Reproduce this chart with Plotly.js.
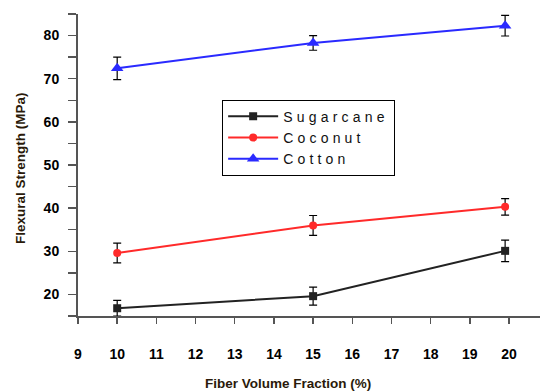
<!DOCTYPE html>
<html>
<head>
<meta charset="utf-8">
<script src="https://cdn.plot.ly/plotly-3.0.1.min.js"></script>
<style>
html,body{margin:0;padding:0;background:#fff;}
#chart{width:540px;height:392px;}
.legendtext{letter-spacing:4.2px;}
.xtick text,.ytick text{font-weight:bold !important;}
</style>
</head>
<body>
<div id="chart"></div>
<script>
// Data
const fiberFraction = [10, 15, 19.9];
const sugarcane = [16.8, 19.6, 30.1];
const sugarcaneErr = [1.8, 2.1, 2.5];
const coconut = [29.6, 36.0, 40.3];
const coconutErr = [2.3, 2.3, 1.9];
const cotton = [72.4, 78.3, 82.3];
const cottonErr = [2.6, 1.7, 2.4];
const seriesNames = ['Sugarcane', 'Coconut', 'Cotton'];
const xTitle = 'Fiber Volume Fraction (%)';
const yTitle = 'Flexural Strength (MPa)';

function trace(name, y, err, color, symbol, size) {
  return {
    x: fiberFraction, y: y, name: name, type: 'scatter', mode: 'lines+markers',
    line: {color: color, width: 2},
    marker: {color: color, symbol: symbol, size: size},
    error_y: {type: 'data', array: err, visible: true, color: '#000', thickness: 1.2, width: 4}
  };
}

const data = [
  trace(seriesNames[0], sugarcane, sugarcaneErr, '#222222', 'square', 8),
  trace(seriesNames[1], coconut, coconutErr, '#ff2a2a', 'circle', 8),
  trace(seriesNames[2], cotton, cottonErr, '#2a2aff', 'triangle-up', 11)
];

const fam = 'Arial, Liberation Sans, sans-serif';
const tickFont = {family: fam, size: 14, color: '#000', weight: 700};
const titleFont = {family: fam, size: 13.5, color: '#2a1a0a', weight: 700};

const layout = {
  width: 540, height: 392,
  margin: {l: 78, r: 0, t: 14, b: 76},
  paper_bgcolor: '#fff', plot_bgcolor: '#fff',
  showlegend: true,
  legend: {
    x: 0.312, y: 0.716, xanchor: 'left', yanchor: 'top',
    bgcolor: '#fff', bordercolor: '#000', borderwidth: 1,
    font: {family: fam, size: 14, color: '#111'},
    itemwidth: 50, tracegroupgap: 0
  },
  xaxis: {
    range: [9, 20.79], dtick: 1, tick0: 9,
    showgrid: false, zeroline: false,
    showline: true, linecolor: '#555', linewidth: 2,
    ticks: 'outside', ticklen: 6, tickcolor: '#555', tickwidth: 1.5,
    tickfont: tickFont, ticklabelstandoff: 18
  },
  yaxis: {
    range: [15, 85], dtick: 10, tick0: 0,
    showgrid: false, zeroline: false,
    showline: true, linecolor: '#555', linewidth: 2,
    ticks: 'outside', ticklen: 8, tickcolor: '#555', tickwidth: 1.5,
    minor: {dtick: 5, tick0: 0, ticks: 'outside', ticklen: 8, tickcolor: '#555', tickwidth: 1.5, showgrid: false},
    tickfont: tickFont, ticklabelstandoff: 6
  },
  annotations: [
    {text: xTitle, xref: 'paper', yref: 'paper', x: (288 - 78) / 462, y: -(383 - 316) / 302,
     xanchor: 'center', yanchor: 'middle', showarrow: false, font: titleFont},
    {text: yTitle, xref: 'paper', yref: 'paper', x: -(78 - 20) / 462, y: 1 - (168 - 14) / 302,
     xanchor: 'center', yanchor: 'middle', textangle: -90, showarrow: false, font: titleFont}
  ]
};

Plotly.newPlot('chart', data, layout, {displayModeBar: false, staticPlot: true});
</script>
</body>
</html>
